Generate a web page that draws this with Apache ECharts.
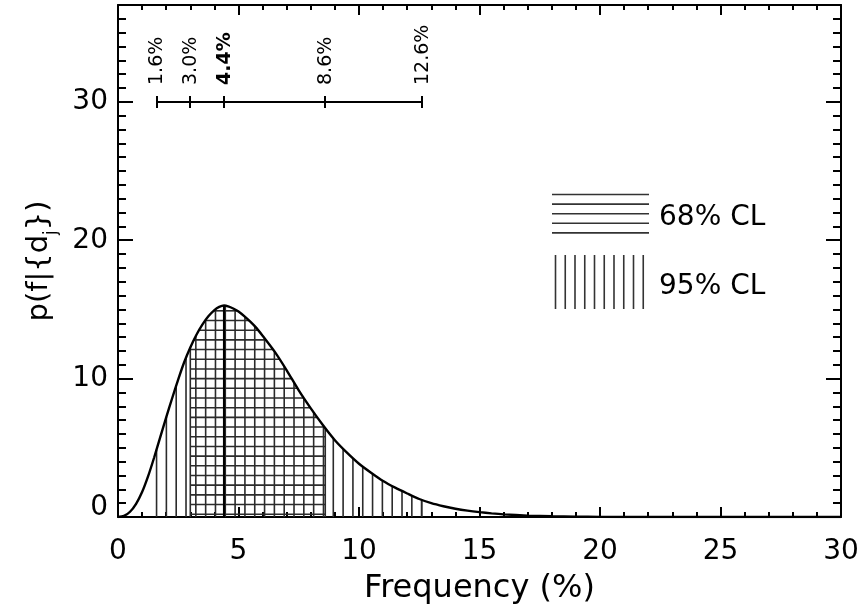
<!DOCTYPE html>
<html>
<head>
<meta charset="utf-8">
<script src="https://cdn.jsdelivr.net/npm/echarts@6/dist/echarts.min.js"></script>
<style>
html,body{margin:0;padding:0;background:#fff;}
#chart{width:862px;height:616px;}
</style>
</head>
<body>
<div id="chart"></div>
<script>
// ---- data ----
const freq = [0,0.25,0.5,0.75,1,1.25,1.5,1.75,2,2.25,2.5,2.75,3,3.25,3.5,3.75,4,4.2,4.4,4.6,4.8,5,5.25,5.5,5.75,6,6.5,7,7.5,8,8.5,9,9.5,10,10.5,11,11.5,12,12.5,13,13.5,14,14.5,15,15.5,16,17,18,19,20,22,25,30];
const prob = [0,0.08,0.38,0.95,1.8,2.95,4.3,5.75,7.2,8.6,9.95,11.2,12.25,13.15,13.9,14.5,14.95,15.18,15.28,15.2,15.05,14.85,14.5,14.1,13.65,13.1,11.95,10.6,9.15,7.85,6.65,5.55,4.65,3.85,3.2,2.6,2.12,1.7,1.3,1.0,0.78,0.6,0.46,0.35,0.26,0.19,0.1,0.05,0.02,0.01,0,0,0];
const ci68 = [3.0, 8.6];
const ci95 = [1.6, 12.6];
const modeValue = 4.4;
const barValues = [1.6, 3.0, 4.4, 8.6, 12.6];
const barLabels = ['1.6%', '3.0%', '4.4%', '8.6%', '12.6%'];
const barLevel = 30;
const legendLabels = ['68% CL', '95% CL'];
const xTitle = 'Frequency (%)';
const yTitle = 'p(f|{d{j|j}})';

// ---- helpers ----
const FONT = 'DejaVu Sans';
const INK = '#000';
const HATCH = '#2b2b2b';
const HATCH_W = 1.6;
function f(x) {
  if (x <= freq[0]) return prob[0];
  for (let i = 1; i < freq.length; i++) {
    if (x <= freq[i]) {
      const t = (x - freq[i-1]) / (freq[i] - freq[i-1]);
      return prob[i-1] + t * (prob[i] - prob[i-1]);
    }
  }
  return prob[prob.length-1];
}
function crossPts(lo, hi) {
  const pts = [[lo, f(lo)]];
  for (let i = 0; i < freq.length; i++) if (freq[i] > lo && freq[i] < hi) pts.push([freq[i], prob[i]]);
  pts.push([hi, f(hi)]);
  return pts;
}
function span(lo, hi, c) {
  const pts = crossPts(lo, hi);
  let left = null, right = null;
  for (let i = 0; i < pts.length; i++) {
    if (pts[i][1] >= c) {
      if (i === 0) left = pts[0][0];
      else { const a = pts[i-1], b = pts[i]; left = a[0] + (c - a[1]) / (b[1] - a[1]) * (b[0] - a[0]); }
      break;
    }
  }
  for (let i = pts.length - 1; i >= 0; i--) {
    if (pts[i][1] >= c) {
      if (i === pts.length - 1) right = pts[i][0];
      else { const a = pts[i], b = pts[i+1]; right = a[0] + (c - a[1]) / (b[1] - a[1]) * (b[0] - a[0]); }
      break;
    }
  }
  return left === null ? null : [left, right];
}
function vline(api, x, w, color) {
  const p0 = api.coord([x, 0]), p1 = api.coord([x, f(x)]);
  return {type: 'line', shape: {x1: p0[0], y1: p0[1], x2: p0[0], y2: p1[1]}, style: {stroke: color, lineWidth: w}};
}

const V_STEP = 0.4074, H_START = 0.2, H_STEP = 0.7;

const tickStyle = {color: INK, width: 2};
const frameLine = {show: true, onZero: false, lineStyle: {color: INK, width: 2}};

const legendChildren = [];
for (let i = 0; i < 5; i++) {
  legendChildren.push({type: 'line', shape: {x1: 552, y1: 194.5 + i * 9.6, x2: 649, y2: 194.5 + i * 9.6},
    style: {stroke: '#333', lineWidth: 1.6}});
}
for (let i = 0; i < 10; i++) {
  legendChildren.push({type: 'line', shape: {x1: 555.5 + i * 9.75, y1: 255, x2: 555.5 + i * 9.75, y2: 309},
    style: {stroke: '#333', lineWidth: 1.6}});
}
legendChildren.push({type: 'text', x: 659, y: 218, style: {text: legendLabels[0], fontSize: 28, fontFamily: FONT, fill: INK, verticalAlign: 'middle'}});
legendChildren.push({type: 'text', x: 659, y: 287, style: {text: legendLabels[1], fontSize: 28, fontFamily: FONT, fill: INK, verticalAlign: 'middle'}});

const gridRect = {left: 118, right: 21, top: 5, bottom: 99};

const option = {
  animation: false,
  backgroundColor: '#fff',
  grid: [Object.assign({}, gridRect), Object.assign({}, gridRect)],
  xAxis: [
    {
      type: 'value', gridIndex: 0, position: 'bottom', min: 0, max: 30, interval: 5,
      splitLine: {show: false}, axisLine: frameLine,
      axisTick: {show: true, inside: true, length: 10, lineStyle: tickStyle},
      minorTick: {show: true, splitNumber: 5, length: 5, lineStyle: tickStyle},
      axisLabel: {fontSize: 28, fontFamily: FONT, color: INK, margin: 21},
      name: xTitle, nameLocation: 'middle', nameGap: 56,
      nameTextStyle: {fontSize: 32, fontFamily: FONT, color: INK}
    },
    {
      type: 'value', gridIndex: 0, position: 'top', min: 0, max: 30, interval: 5,
      splitLine: {show: false}, axisLine: frameLine,
      axisTick: {show: true, inside: true, length: 10, lineStyle: tickStyle},
      minorTick: {show: true, splitNumber: 5, length: 5, lineStyle: tickStyle},
      axisLabel: {show: false}
    },
    {
      type: 'value', gridIndex: 1, position: 'bottom', min: 0, max: 30, show: false
    }
  ],
  yAxis: [
    {
      type: 'value', gridIndex: 0, position: 'left', min: 0, max: 37, interval: 10,
      splitLine: {show: false}, axisLine: frameLine,
      axisTick: {show: true, inside: true, length: 15, lineStyle: tickStyle},
      axisLabel: {fontSize: 28, fontFamily: FONT, color: INK, margin: 10, showMaxLabel: false,
        formatter: v => (v === 0 ? '{z|0}' : String(v)),
        rich: {z: {fontSize: 28, fontFamily: FONT, color: INK, padding: [0, 0, 18, 0]}}},
      name: yTitle, nameLocation: 'middle', nameGap: 64, nameRotate: 90,
      nameTextStyle: {fontSize: 29, fontFamily: FONT, color: INK,
        rich: {j: {fontSize: 17, fontFamily: FONT, color: INK, verticalAlign: 'bottom', padding: [0, 0, -6, 0]}}}
    },
    {
      type: 'value', gridIndex: 0, position: 'right', min: 0, max: 37, interval: 10,
      splitLine: {show: false}, axisLine: frameLine,
      axisTick: {show: true, inside: true, length: 15, lineStyle: tickStyle},
      axisLabel: {show: false}
    },
    {
      type: 'value', gridIndex: 1, position: 'left', min: 0, max: 37, interval: 1,
      splitLine: {show: false}, axisLine: {show: false},
      axisTick: {show: true, inside: true, length: 8, lineStyle: tickStyle},
      axisLabel: {show: false}
    },
    {
      type: 'value', gridIndex: 1, position: 'right', min: 0, max: 37, interval: 1,
      splitLine: {show: false}, axisLine: {show: false},
      axisTick: {show: true, inside: true, length: 8, lineStyle: tickStyle},
      axisLabel: {show: false}
    }
  ],
  graphic: {
    elements: [{type: 'group', silent: true, children: legendChildren}]
  },
  series: [
    {
      // 95% CL: vertical hatching
      type: 'custom', name: '95% CL', xAxisIndex: 0, yAxisIndex: 0,
      dimensions: ['lo', 'hi'], encode: {x: [0, 1]},
      data: [[ci95[0], ci95[1]]], z: 2, silent: true,
      renderItem: function (params, api) {
        const lo = api.value(0), hi = api.value(1);
        const children = [];
        for (let x = lo; x <= hi + 1e-6; x += V_STEP) children.push(vline(api, x, HATCH_W, HATCH));
        children.push(vline(api, hi, HATCH_W, HATCH));
        return {type: 'group', children: children};
      }
    },
    {
      // 68% CL: horizontal hatching (crosses the vertical one)
      type: 'custom', name: '68% CL', xAxisIndex: 0, yAxisIndex: 0,
      dimensions: ['lo', 'hi'], encode: {x: [0, 1]},
      data: [[ci68[0], ci68[1]]], z: 3, silent: true,
      renderItem: function (params, api) {
        const lo = api.value(0), hi = api.value(1);
        const children = [];
        for (let c = H_START; c < 40; c += H_STEP) {
          const s = span(lo, hi, c);
          if (!s) break;
          const a = api.coord([s[0], c]), b = api.coord([s[1], c]);
          children.push({type: 'line', shape: {x1: a[0], y1: a[1], x2: b[0], y2: b[1]}, style: {stroke: HATCH, lineWidth: HATCH_W}});
        }
        children.push(vline(api, lo, HATCH_W, HATCH));
        children.push(vline(api, hi, HATCH_W, HATCH));
        return {type: 'group', children: children};
      }
    },
    {
      // most probable value
      type: 'custom', name: 'mode', xAxisIndex: 0, yAxisIndex: 0,
      dimensions: ['x'], encode: {x: 0},
      data: [[modeValue]], z: 4, silent: true,
      renderItem: function (params, api) {
        return vline(api, api.value(0), 2.2, '#000');
      }
    },
    {
      type: 'line', name: 'posterior', xAxisIndex: 0, yAxisIndex: 0,
      data: freq.map((x, i) => [x, prob[i]]),
      showSymbol: false, symbol: 'none', smooth: 0.25, z: 5,
      lineStyle: {color: INK, width: 2.4}
    },
    {
      // confidence-limit bar at the top
      type: 'custom', name: 'limits', xAxisIndex: 0, yAxisIndex: 0,
      dimensions: ['x', 'y'], encode: {x: 0, y: 1},
      data: barValues.map(v => [v, barLevel]), z: 6, silent: true, clip: false,
      renderItem: function (params, api) {
        const i = params.dataIndex;
        const p = api.coord([api.value(0), api.value(1)]);
        const children = [];
        const px = Math.round(p[0]), py = Math.round(p[1]);
        children.push({type: 'line', shape: {x1: px, y1: py - 6, x2: px, y2: py + 6}, style: {stroke: INK, lineWidth: 2}});
        if (i < barValues.length - 1) {
          const q = api.coord([barValues[i + 1], barLevel]);
          children.push({type: 'line', shape: {x1: px, y1: py, x2: Math.round(q[0]), y2: py}, style: {stroke: INK, lineWidth: 2}});
        }
        children.push({
          type: 'text', x: p[0] + 1, y: py - 17, rotation: Math.PI / 2,
          style: {text: barLabels[i], fontSize: 19, fontFamily: FONT,
            fontWeight: barValues[i] === modeValue ? 'bold' : 'normal',
            fill: INK, align: 'left', verticalAlign: 'middle'}
        });
        return {type: 'group', children: children};
      }
    }
  ]
};

const chart = echarts.init(document.getElementById('chart'), null, {renderer: 'canvas'});
chart.setOption(option);
</script>
</body>
</html>
